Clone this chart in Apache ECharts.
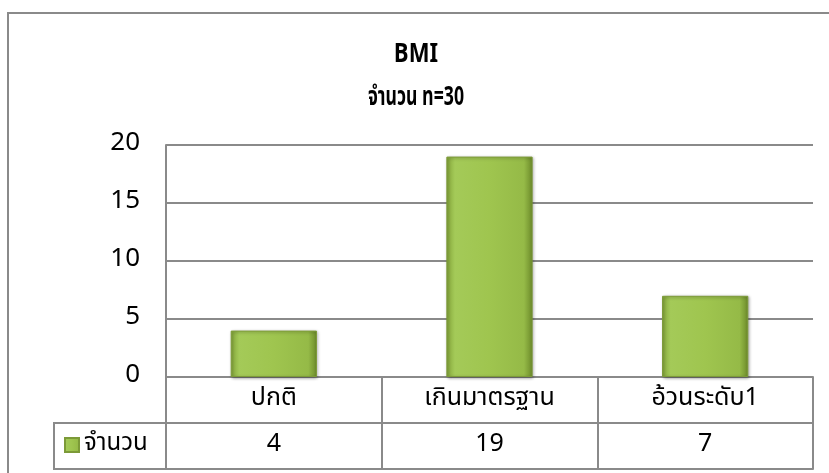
<!DOCTYPE html>
<html>
<head>
<meta charset="utf-8">
<script src="https://cdn.jsdelivr.net/npm/echarts@6/dist/echarts.min.js"></script>
<style>
html,body{margin:0;padding:0;background:#fff;}
#c{width:829px;height:473px;}
</style>
</head>
<body>
<div id="c"></div>
<script>
var titleText = 'BMI';
var subtitleText = 'จำนวน n=30';
var seriesName = 'จำนวน';
var categories = ['ปกติ', 'เกินมาตรฐาน', 'อ้วนระดับ1'];
var values = [4, 19, 7];
var yMin = 0, yMax = 20, yStep = 5;

var FONT = '"Noto Sans Thai", "Noto Sans", sans-serif';
var LINE = '#8a8a8a';
var barColor = new echarts.graphic.LinearGradient(0, 0, 1, 0, [
  {offset: 0, color: '#84a63a'},
  {offset: 0.1, color: '#a4ca58'},
  {offset: 0.5, color: '#9fc54f'},
  {offset: 0.9, color: '#95ba47'},
  {offset: 1, color: '#6c8a2a'}
]);

var chart = echarts.init(document.getElementById('c'), null, {renderer: 'canvas'});
var labelStyle = {fontFamily: FONT, fontSize: 25, lineHeight: 26, color: '#000', margin: 10};
var axisBase = {
  type: 'category',
  position: 'bottom',
  data: categories,
  axisLine: {show: true, lineStyle: {color: LINE, width: 2}},
  splitLine: {show: false}
};
chart.setOption({
  animation: false,
  backgroundColor: '#fff',
  legend: {
    data: [seriesName],
    left: 64, top: 433,
    itemWidth: 14, itemHeight: 14, itemGap: 5, padding: 0,
    icon: 'rect',
    textStyle: {fontFamily: FONT, fontSize: 24, color: '#000'}
  },
  grid: {left: 166, right: 16, top: 145, bottom: 96, containLabel: false},
  xAxis: [
    Object.assign({}, axisBase, {
      axisTick: {show: true, length: 92, lineStyle: {color: LINE, width: 2}},
      axisLabel: labelStyle
    }),
    Object.assign({}, axisBase, {
      offset: 46,
      data: values.map(String),
      axisTick: {show: false},
      axisLabel: labelStyle
    }),
    Object.assign({}, axisBase, {
      offset: 92,
      axisTick: {show: false},
      axisLabel: {show: false}
    })
  ],
  yAxis: {
    type: 'value', min: yMin, max: yMax, interval: yStep,
    axisLine: {show: true, lineStyle: {color: LINE, width: 2}},
    axisTick: {show: false},
    splitLine: {show: true, lineStyle: {color: LINE, width: 2}},
    axisLabel: {fontFamily: FONT, fontSize: 26, color: '#000', margin: 26}
  },
  series: [{
    name: seriesName,
    type: 'bar',
    xAxisIndex: 0,
    data: values,
    barWidth: '40%',
    itemStyle: {
      color: barColor,
      borderColor: '#7c9a38', borderWidth: 1,
      shadowColor: 'rgba(0,0,0,0.35)', shadowBlur: 3, shadowOffsetX: 1, shadowOffsetY: 1
    }
  }],
  graphic: [
    {type: 'rect', shape: {x: 8, y: 13, width: 900, height: 600}, style: {fill: null, stroke: LINE, lineWidth: 2}, silent: true},
    {type: 'rect', shape: {x: 54, y: 423, width: 112, height: 46}, style: {fill: null, stroke: LINE, lineWidth: 2}, silent: true},
    {type: 'text', x: 416, y: 57, scaleX: 0.85, silent: true,
      style: {text: titleText, x: 0, y: 0, align: 'center', verticalAlign: 'middle',
        font: 'bold 26px ' + FONT, fill: '#000'}},
    {type: 'text', x: 416, y: 100, scaleX: 0.68, silent: true,
      style: {text: subtitleText, x: 0, y: 0, align: 'center', verticalAlign: 'middle',
        font: 'bold 26px ' + FONT, fill: '#000'}}
  ]
});
</script>
</body>
</html>
